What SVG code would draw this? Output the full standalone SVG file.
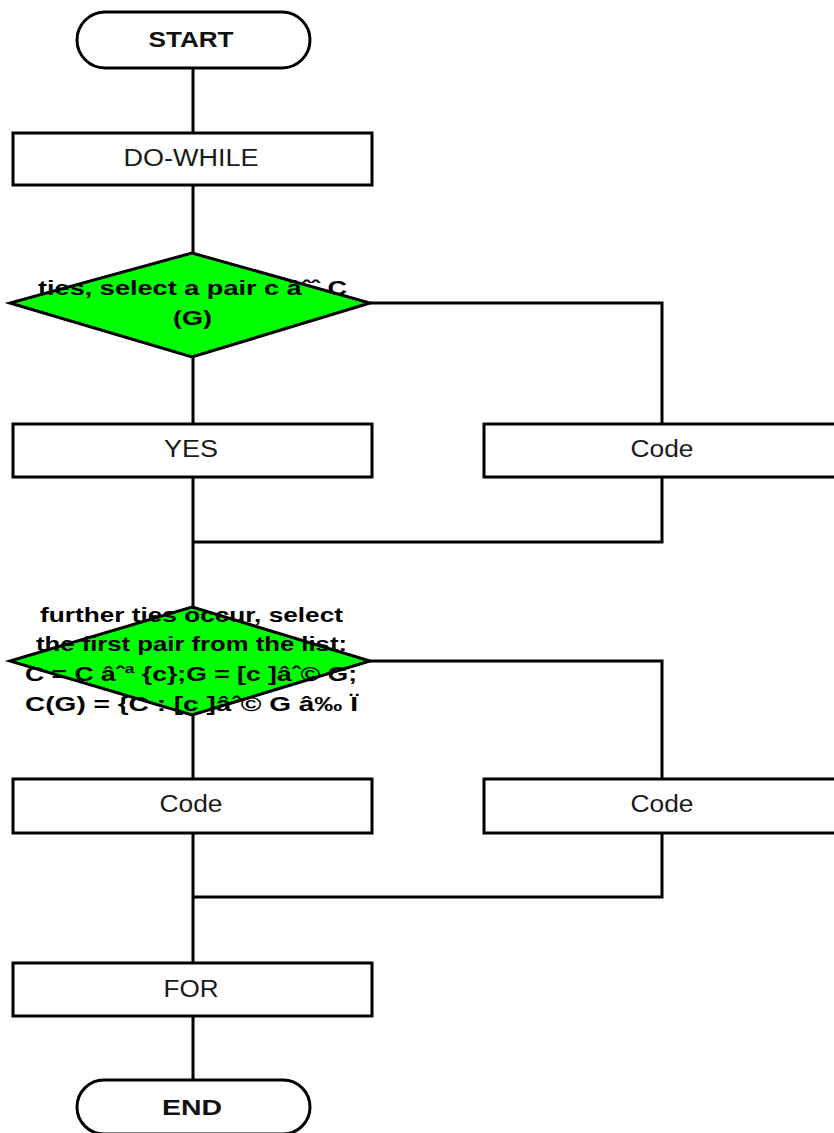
<svg xmlns="http://www.w3.org/2000/svg" width="834" height="1133" viewBox="0 0 834 1133">
<style>
.box{fill:#fff;stroke:#000;stroke-width:3}
.term{fill:#fff;stroke:#000;stroke-width:3}
.dia{fill:#00ff00;stroke:#000;stroke-width:3;stroke-linejoin:miter}
.ln{fill:none;stroke:#000;stroke-width:3}
.lbl{font-family:"Liberation Sans",Arial,sans-serif;font-size:23px;fill:#1a1a1a;text-anchor:middle}
.tl{font-family:"Liberation Sans",Arial,sans-serif;font-size:22px;font-weight:bold;fill:#111;text-anchor:middle}
.dt{font-family:"Liberation Sans",Arial,sans-serif;font-size:20px;font-weight:bold;fill:#000;text-anchor:middle}
</style>
<rect width="834" height="1133" fill="#fff"/>
<g id="connectors">
<path class="ln" d="M193 68V133M193 185V253M193 357V424M193 477V607M193 542H662V477M370 303H662V424M370 661H662V779M193 715V779M193 833V963M193 897H662V833M193 1016V1080"/>
</g>
<g id="start">
<rect class="term" x="77" y="12" width="233" height="56" rx="28"/>
<text class="tl" x="191" y="47" textLength="85" lengthAdjust="spacingAndGlyphs">START</text>
</g>
<g id="dowhile">
<rect class="box" x="13" y="133" width="359" height="52"/>
<text class="lbl" x="191" y="166" textLength="135" lengthAdjust="spacingAndGlyphs">DO-WHILE</text>
</g>
<g id="decision1">
<polygon class="dia" points="192,253 370,303 192,357 10,303"/>
<text class="dt" x="192.5" y="295" textLength="309" lengthAdjust="spacingAndGlyphs">ties, select a pair c âˆˆ C</text>
<text class="dt" x="192.5" y="325" textLength="39" lengthAdjust="spacingAndGlyphs">(G)</text>
</g>
<g id="yes">
<rect class="box" x="13" y="424" width="359" height="53"/>
<text class="lbl" x="191" y="457" textLength="54" lengthAdjust="spacingAndGlyphs">YES</text>
</g>
<g id="code1">
<rect class="box" x="484" y="424" width="358" height="53"/>
<text class="lbl" x="662" y="457" textLength="63" lengthAdjust="spacingAndGlyphs">Code</text>
</g>
<g id="decision2">
<polygon class="dia" points="192,607 370,661 192,715 10,661"/>
<text class="dt" x="191.5" y="622" textLength="303" lengthAdjust="spacingAndGlyphs">further ties occur, select</text>
<text class="dt" x="191.5" y="651" textLength="311" lengthAdjust="spacingAndGlyphs">the first pair from the list:</text>
<text class="dt" x="191" y="681" textLength="332" lengthAdjust="spacingAndGlyphs">C = C âˆª {c};G = [c ]âˆ© G;</text>
<text class="dt" x="191.5" y="711" textLength="333" lengthAdjust="spacingAndGlyphs">C(G) = {C : [c ]âˆ© G â‰  Ï</text>
</g>
<g id="code2">
<rect class="box" x="13" y="779" width="359" height="54"/>
<text class="lbl" x="191" y="812" textLength="63" lengthAdjust="spacingAndGlyphs">Code</text>
</g>
<g id="code3">
<rect class="box" x="484" y="779" width="358" height="54"/>
<text class="lbl" x="662" y="812" textLength="63" lengthAdjust="spacingAndGlyphs">Code</text>
</g>
<g id="for">
<rect class="box" x="13" y="963" width="359" height="53"/>
<text class="lbl" x="191" y="997" textLength="55" lengthAdjust="spacingAndGlyphs">FOR</text>
</g>
<g id="end">
<rect class="term" x="77" y="1080" width="233" height="54" rx="27"/>
<text class="tl" x="192" y="1115" textLength="60" lengthAdjust="spacingAndGlyphs">END</text>
</g>
</svg>
